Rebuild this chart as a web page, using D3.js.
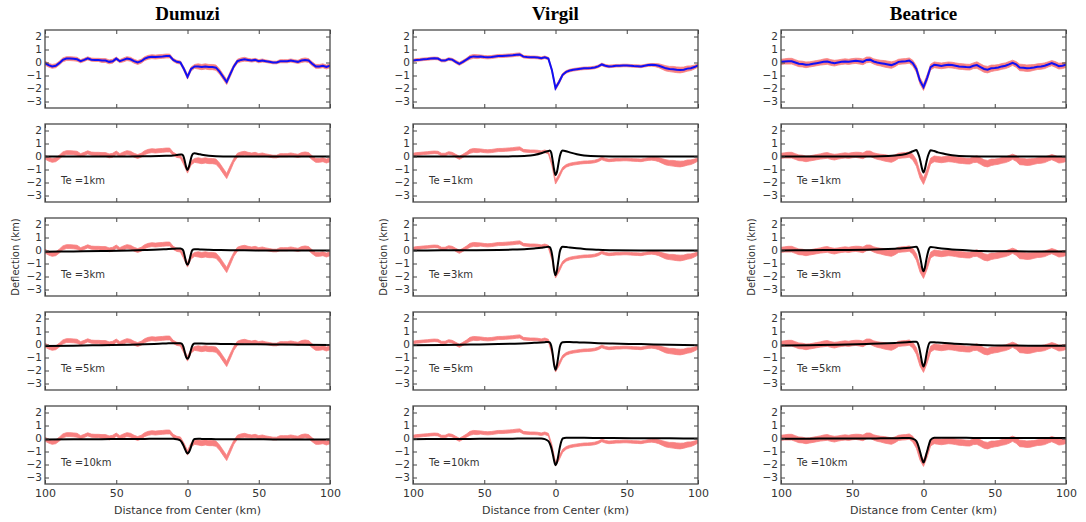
<!DOCTYPE html>
<html>
<head>
<meta charset="utf-8">
<script src="https://cdn.jsdelivr.net/npm/d3@7"></script>
<style>
body { margin: 0; background: #fff; }
text { font-family: "DejaVu Sans", sans-serif; fill: #333; }
</style>
</head>
<body>
<div id="chart"></div>
<script>
//crater names and panel labels
var craters = ["Dumuzi", "Virgil", "Beatrice"];
var teLabels = ["Te =1km", "Te =3km", "Te =5km", "Te =10km"];
var yTicks = [2, 1, 0, -1, -2, -3];
var xTicks = [-100, -50, 0, 50, 100];

//observed profiles, sampled every 2.5 km from -100 to 100
var obsKm = d3.range(-100, 100.1, 2.5);

var dumuziObs = [-0.05,-0.2,-0.3,-0.25,-0.05,0.2,0.3,0.3,0.28,0.25,
  0.1,0.2,0.32,0.22,0.2,0.2,0.15,0.15,0.05,0.1,
  0.3,0.1,0.2,0.3,0.25,0.1,0.0,0.1,0.3,0.4,
  0.45,0.42,0.45,0.47,0.5,0.5,0.2,0.05,0.0,-0.5,
  -1.1,
  -0.5,-0.3,-0.3,-0.35,-0.3,-0.35,-0.35,-0.4,-0.7,-1.1,
  -1.5,-0.9,-0.3,0.1,0.2,0.25,0.2,0.15,0.2,0.1,
  0.15,0.1,0.05,0.0,0.0,0.1,0.1,0.1,0.15,0.1,
  0.05,0.15,0.2,0.15,-0.1,-0.3,-0.3,-0.25,-0.35,-0.25];
var dumuziErr = [0.15,0.15,0.15,0.15,0.15,0.15,0.15,0.15,0.15,0.15,
  0.12,0.12,0.12,0.12,0.12,0.12,0.15,0.15,0.15,0.15,
  0.12,0.12,0.15,0.15,0.15,0.15,0.15,0.15,0.15,0.15,
  0.15,0.15,0.15,0.15,0.15,0.15,0.12,0.12,0.12,0.15,
  0.18,
  0.15,0.15,0.2,0.2,0.2,0.2,0.2,0.2,0.2,0.2,
  0.2,0.2,0.15,0.15,0.15,0.15,0.12,0.12,0.12,0.12,
  0.12,0.1,0.1,0.1,0.1,0.12,0.12,0.12,0.12,0.12,
  0.12,0.15,0.15,0.15,0.15,0.15,0.15,0.15,0.15,0.15];

var virgilObs = [0.15,0.2,0.22,0.25,0.27,0.3,0.32,0.3,0.15,0.15,
  0.27,0.22,0.05,-0.1,0.05,0.22,0.4,0.47,0.45,0.46,
  0.42,0.4,0.42,0.46,0.5,0.5,0.52,0.54,0.56,0.6,
  0.62,0.45,0.42,0.4,0.4,0.38,0.33,0.4,0.3,-0.6,
  -1.97,
  -1.5,-0.95,-0.72,-0.62,-0.56,-0.52,-0.48,-0.45,-0.44,-0.42,
  -0.38,-0.3,-0.15,-0.25,-0.3,-0.28,-0.25,-0.25,-0.23,-0.23,
  -0.25,-0.27,-0.28,-0.3,-0.25,-0.2,-0.18,-0.2,-0.25,-0.35,
  -0.45,-0.5,-0.52,-0.56,-0.58,-0.55,-0.47,-0.44,-0.35,-0.23];
var virgilErr = [0.1,0.1,0.1,0.1,0.1,0.1,0.1,0.1,0.1,0.1,
  0.1,0.1,0.12,0.12,0.12,0.12,0.15,0.15,0.15,0.12,
  0.12,0.12,0.12,0.12,0.12,0.12,0.12,0.12,0.12,0.12,
  0.12,0.1,0.1,0.1,0.1,0.1,0.1,0.1,0.1,0.12,
  0.15,
  0.15,0.12,0.1,0.1,0.1,0.1,0.1,0.1,0.1,0.1,
  0.1,0.1,0.1,0.1,0.1,0.1,0.1,0.1,0.1,0.1,
  0.1,0.1,0.1,0.1,0.1,0.1,0.1,0.12,0.15,0.18,
  0.2,0.2,0.22,0.22,0.22,0.2,0.2,0.18,0.15,0.12];

var beatriceObs = [0.05,0.08,0.1,0.1,0.0,-0.1,-0.12,-0.18,-0.15,-0.1,
  -0.05,0.0,0.05,0.08,0.0,-0.05,0.0,0.05,0.08,0.05,
  0.1,0.13,0.1,0.05,0.2,0.22,0.08,0.0,-0.05,-0.1,
  -0.15,-0.2,-0.1,0.05,0.08,0.1,0.15,-0.05,-0.5,-1.4,
  -1.9,
  -1.2,-0.35,-0.18,-0.22,-0.26,-0.22,-0.18,-0.2,-0.25,-0.3,
  -0.32,-0.35,-0.36,-0.25,-0.2,-0.35,-0.5,-0.55,-0.45,-0.42,
  -0.38,-0.3,-0.25,-0.15,-0.02,-0.15,-0.38,-0.4,-0.44,-0.42,
  -0.38,-0.32,-0.3,-0.25,-0.15,-0.05,-0.15,-0.28,-0.25,-0.18];
var beatriceErr = [0.2,0.2,0.22,0.22,0.22,0.22,0.22,0.22,0.2,0.2,
  0.2,0.2,0.22,0.22,0.22,0.22,0.2,0.2,0.2,0.2,
  0.2,0.2,0.22,0.22,0.22,0.2,0.2,0.22,0.22,0.25,
  0.25,0.25,0.22,0.2,0.2,0.2,0.2,0.22,0.25,0.25,
  0.25,
  0.25,0.22,0.22,0.22,0.22,0.22,0.22,0.22,0.22,0.22,
  0.22,0.22,0.22,0.22,0.25,0.25,0.25,0.25,0.25,0.22,
  0.22,0.22,0.22,0.22,0.2,0.22,0.25,0.25,0.25,0.25,
  0.22,0.22,0.22,0.22,0.2,0.2,0.22,0.22,0.22,0.2];

//model flexure profiles (Te = 1, 3, 5, 10 km)
var modelKm = [-100,-80,-60,-40,-30,-20,-15,-10,-7.5,-5,-4,-3,-2,-1,0,1,2,3,4,5,7.5,10,15,20,30,40,60,80,100];

var dumuziTe1 = [0,0,0,0,0.01,0.03,0.05,0.08,0.12,0.16,0.15,0.05,-0.3,-0.8,-1.03,-0.8,-0.35,0.05,0.22,0.25,0.2,0.14,0.06,0.02,0,0,0,0,0];
var dumuziTe3 = [-0.1,-0.07,-0.04,0,0.03,0.07,0.1,0.13,0.15,0.16,0.12,0.0,-0.4,-0.9,-1.1,-0.9,-0.45,-0.05,0.08,0.1,0.09,0.07,0.05,0.04,0.02,0.01,0,0,0];
var dumuziTe5 = [-0.12,-0.09,-0.05,-0.01,0.02,0.06,0.08,0.1,0.1,0.1,0.05,-0.15,-0.55,-0.95,-1.1,-0.95,-0.6,-0.2,0.02,0.08,0.08,0.07,0.06,0.05,0.03,0.02,0,-0.02,-0.03];
var dumuziTe10 = [-0.08,-0.06,-0.05,-0.04,-0.03,-0.02,-0.02,-0.02,-0.05,-0.15,-0.3,-0.5,-0.75,-1.0,-1.15,-1.05,-0.8,-0.45,-0.15,-0.03,-0.02,-0.03,-0.04,-0.05,-0.05,-0.06,-0.07,-0.08,-0.08];

var virgilTe1 = [0,0,0,0,0.01,0.05,0.12,0.25,0.35,0.42,0.46,0.3,-0.3,-1.0,-1.42,-1.2,-0.6,0.0,0.35,0.46,0.4,0.32,0.18,0.08,0.01,0,0,0,0];
var virgilTe3 = [0,0.01,0.02,0.04,0.07,0.12,0.16,0.21,0.25,0.28,0.25,0.0,-0.6,-1.5,-1.9,-1.55,-0.8,-0.1,0.2,0.28,0.26,0.23,0.17,0.12,0.06,0.02,0,0,0];
var virgilTe5 = [-0.05,-0.03,0,0.03,0.06,0.1,0.13,0.16,0.18,0.2,0.15,-0.1,-0.7,-1.55,-1.95,-1.6,-0.9,-0.2,0.1,0.18,0.2,0.19,0.17,0.15,0.1,0.07,0.03,-0.02,-0.05];
var virgilTe10 = [-0.05,-0.04,-0.03,-0.02,-0.01,0,0,0,-0.05,-0.2,-0.4,-0.7,-1.15,-1.7,-2.05,-1.85,-1.3,-0.7,-0.25,0.0,0.06,0.06,0.05,0.05,0.04,0.03,0.02,0.01,0];

var beatriceTe1 = [0,0,0,0,0.02,0.08,0.13,0.28,0.4,0.5,0.3,0.0,-0.45,-0.95,-1.23,-0.95,-0.45,0.0,0.3,0.48,0.42,0.32,0.2,0.1,0.01,0,0,0,0];
var beatriceTe3 = [0,0.02,0.04,0.06,0.09,0.14,0.17,0.22,0.26,0.28,0.15,-0.2,-0.7,-1.3,-1.6,-1.3,-0.7,-0.2,0.15,0.26,0.24,0.2,0.13,0.08,0.02,-0.03,-0.06,-0.07,-0.08];
var beatriceTe5 = [-0.08,-0.05,-0.02,0.04,0.07,0.12,0.15,0.19,0.21,0.22,0.1,-0.25,-0.8,-1.4,-1.7,-1.4,-0.8,-0.25,0.1,0.18,0.17,0.15,0.12,0.08,0.02,-0.03,-0.08,-0.09,-0.1];
var beatriceTe10 = [-0.02,-0.01,0,0,0.01,0.02,0.03,0.03,-0.02,-0.2,-0.45,-0.8,-1.2,-1.6,-1.85,-1.6,-1.2,-0.8,-0.4,-0.1,0.05,0.06,0.06,0.05,0.05,0.04,0.04,0.03,0.03];

//grouping per crater
var obsValues = [dumuziObs, virgilObs, beatriceObs];
var obsErrors = [dumuziErr, virgilErr, beatriceErr];
var models = [
  [dumuziTe1, dumuziTe3, dumuziTe5, dumuziTe10],
  [virgilTe1, virgilTe3, virgilTe5, virgilTe10],
  [beatriceTe1, beatriceTe3, beatriceTe5, beatriceTe10]
];

//panel layout
var colLeft = [45, 413, 781],
    rowTop = [30, 124, 218, 312, 406],
    plotW = 285,
    plotH = 78;

//appending svg object to body
var svg = d3.select("#chart")
  .append("svg")
  .attr("width", 1086)
  .attr("height", 522);

//scales shared by every panel
var xScale = d3.scaleLinear().domain([-100, 100]).range([0, plotW]);
var yScale = d3.scaleLinear().domain([-3.5, 2.5]).range([plotH, 0]);
var intFormat = d3.format("d");

var band = d3.area()
  .x(function(d) { return xScale(d.km); })
  .y0(function(d) { return yScale(d.v - d.e); })
  .y1(function(d) { return yScale(d.v + d.e); });

var obsLine = d3.line()
  .x(function(d) { return xScale(d.km); })
  .y(function(d) { return yScale(d.v); });

var modelLine = d3.line()
  .curve(d3.curveMonotoneX)
  .x(function(d) { return xScale(d.km); })
  .y(function(d) { return yScale(d.v); });

svg.append("defs").append("clipPath")
  .attr("id", "clip")
  .append("rect")
  .attr("width", plotW)
  .attr("height", plotH);

craters.forEach(function(name, c) {
  var obs = obsKm.map(function(km, i) {
    return {km: km, v: obsValues[c][i], e: obsErrors[c][i]};
  });

  //crater title
  svg.append("text")
    .attr("x", colLeft[c] + plotW / 2)
    .attr("y", 20)
    .attr("text-anchor", "middle")
    .style("font-family", "'Liberation Serif', serif")
    .style("font-weight", "bold")
    .style("font-size", "19px")
    .style("fill", "#000")
    .text(name);

  rowTop.forEach(function(top, r) {
    var g = svg.append("g")
      .attr("transform", "translate(" + colLeft[c] + "," + top + ")");

    var inner = g.append("g").attr("clip-path", "url(#clip)");

    //observed profile with its uncertainty
    inner.append("path")
      .datum(obs)
      .attr("d", band)
      .attr("fill", "#f88080")
      .attr("stroke", "#f88080")
      .attr("stroke-width", 0.8);

    if (r === 0) {
      inner.append("path")
        .datum(obs)
        .attr("d", obsLine)
        .attr("fill", "none")
        .attr("stroke", "#1010f5")
        .attr("stroke-width", 2);
    } else {
      var m = modelKm.map(function(km, i) { return {km: km, v: models[c][r - 1][i]}; });
      inner.append("path")
        .datum(m)
        .attr("d", modelLine)
        .attr("fill", "none")
        .attr("stroke", "#000")
        .attr("stroke-width", 2);

      g.append("text")
        .attr("x", 16)
        .attr("y", 60)
        .style("font-size", "10px")
        .text(teLabels[r - 1]);
    }

    //axes with inward ticks (matplotlib style)
    var left = g.append("g")
      .call(d3.axisLeft(yScale).tickValues(yTicks).tickSizeInner(-4).tickSizeOuter(0).tickPadding(3).tickFormat(intFormat));
    var right = g.append("g")
      .attr("transform", "translate(" + plotW + ",0)")
      .call(d3.axisRight(yScale).tickValues(yTicks).tickSizeInner(-4).tickSizeOuter(0).tickFormat(""));
    var topAx = g.append("g")
      .call(d3.axisTop(xScale).tickValues(xTicks).tickSizeInner(-4).tickSizeOuter(0).tickFormat(""));
    var bottom = g.append("g")
      .attr("transform", "translate(0," + plotH + ")")
      .call(d3.axisBottom(xScale).tickValues(xTicks).tickSizeInner(-4).tickSizeOuter(0).tickPadding(5)
        .tickFormat(function(d) { return r === 4 ? Math.abs(d) : ""; }));

    [left, right, topAx, bottom].forEach(function(a) {
      a.select(".domain").remove();
      a.selectAll(".tick line").attr("stroke", "#444");
      a.selectAll(".tick text").style("font-size", a === bottom ? "11px" : "10.5px")
        .style("font-family", "'DejaVu Sans', sans-serif").attr("fill", "#333");
    });

    //frame
    g.append("rect")
      .attr("width", plotW)
      .attr("height", plotH)
      .attr("fill", "none")
      .attr("stroke", "#4a4a4a")
      .attr("stroke-width", 1.3);
  });

  //axis labels
  svg.append("text")
    .attr("transform", "translate(" + (colLeft[c] - 30) + "," + (rowTop[2] + plotH / 2) + ") rotate(-90)")
    .attr("text-anchor", "middle")
    .attr("dy", "0.35em")
    .style("font-size", "10px")
    .text("Deflection (km)");

  svg.append("text")
    .attr("x", colLeft[c] + plotW / 2)
    .attr("y", 514)
    .attr("text-anchor", "middle")
    .style("font-size", "11px")
    .text("Distance from Center (km)");
});
</script>
</body>
</html>
